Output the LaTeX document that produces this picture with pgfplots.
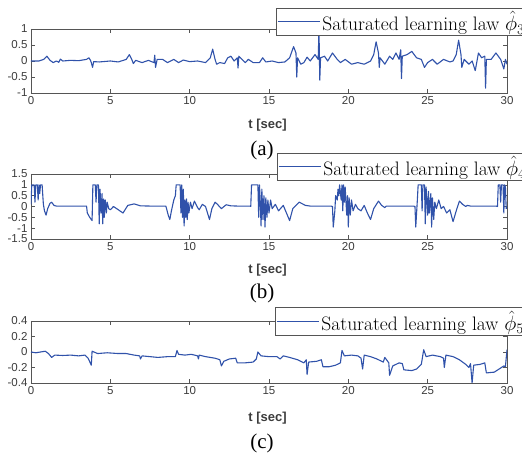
\documentclass[border=0pt]{standalone}
\usepackage{fontspec}
\setsansfont{Liberation Sans}
\newfontfamily\timesfont{Liberation Serif}
\usepackage{pgfplots}
\pgfplotsset{compat=1.18}
\definecolor{mblue}{RGB}{48,82,170}
\definecolor{axgray}{RGB}{85,85,85}
\definecolor{labgray}{RGB}{60,60,60}
\pgfplotsset{
  myax/.style={
    scale only axis, width=476pt,
    xmin=0, xmax=30,
    xtick={0,5,10,15,20,25,30},
    xticklabels={0,5,10,15,20,25,30},
    tick align=inside, major tick length=4pt,
    axis line style={axgray, line width=0.6pt},
    every tick/.style={axgray, line width=0.5pt},
    tick label style={font=\sffamily\fontsize{11.5}{12}\selectfont, text=labgray},
    xlabel={t [sec]},
    xlabel style={font=\sffamily\bfseries\fontsize{13}{14}\selectfont, text=labgray,
      at={(axis description cs:0.497,0)}, anchor=center},
    legend cell align=left,
    legend style={anchor=north west, draw=axgray, fill=white, line width=0.5pt,
      font=\fontsize{19.5}{21}\selectfont, inner sep=1pt, row sep=0pt},
    legend image code/.code={\draw[mblue, line width=1pt] (0pt,0pt) -- (42pt,0pt);},
    no markers,
    every axis plot post/.append style={mblue, line width=1.1pt, line join=round, mark=none},
  }
}
\begin{document}
\begin{tikzpicture}[x=1pt,y=1pt]
\path[use as bounding box] (0,0) rectangle (522,460);
\clip (0,0) rectangle (522,460);
% ---------------- (a)
\begin{axis}[myax, at={(31pt,367pt)}, anchor=south west, height=64pt,
  ymin=-1, ymax=1, ytick={-1,-0.5,0,0.5,1}, yticklabels={-1,-0.5,0,0.5,1},
  xlabel style={yshift=-32pt},
  legend style={at={(0.515,1.33)}}]
\addplot coordinates {(0,0)(0.5,0.0)(0.8,0.05)(1.0,0.15)(1.2,0.02)(1.4,-0.05)(1.6,0.0)(1.75,-0.04)(1.85,0.06)(2.0,0.0)(2.5,0.02)(3.0,0.01)(3.5,0.05)(3.65,0.1)(3.75,0.02)(3.8,-0.05)(3.88,-0.2)(3.95,-0.02)(4.3,-0.03)(5,0.0)(5.5,-0.03)(6.0,0.05)(6.2,0.2)(6.35,0.05)(6.45,-0.08)(6.6,0.02)(7.0,-0.05)(7.4,0.02)(7.75,-0.05)(7.8,0.18)(7.85,-0.2)(7.95,0.05)(8.3,0.05)(8.6,-0.05)(9.0,0.05)(9.3,-0.05)(9.6,0.03)(10,-0.02)(10.5,0.0)(11.0,-0.05)(11.3,0.1)(11.45,0.37)(11.6,0.05)(11.7,-0.1)(11.9,-0.05)(12.2,-0.08)(12.4,0.1)(12.6,0.15)(12.8,0.0)(13.0,0.1)(13.05,-0.22)(13.1,0.15)(13.3,0.05)(13.5,-0.05)(13.7,0.05)(14.0,-0.05)(14.4,-0.05)(14.6,0.1)(14.8,-0.03)(15.2,0.0)(15.6,-0.05)(16.0,-0.03)(16.3,0.1)(16.55,0.45)(16.7,0.25)(16.75,-0.5)(16.8,0.1)(17.0,-0.1)(17.2,-0.05)(17.4,0.12)(17.6,0.0)(17.9,0.2)(18.1,0.05)(18.15,1.0)(18.2,-0.6)(18.25,0.1)(18.5,0.15)(18.7,0.0)(19.0,0.25)(19.3,0.05)(19.5,-0.05)(19.8,0.05)(20.2,-0.1)(20.6,-0.05)(21.0,-0.1)(21.4,0.0)(21.6,0.2)(21.75,0.6)(21.9,0.25)(21.95,-0.2)(22.0,0.1)(22.3,-0.1)(22.6,0.15)(22.8,0.05)(23.0,0.25)(23.2,0.05)(23.3,0.35)(23.35,-0.55)(23.4,0.15)(23.7,0.2)(24.0,0.3)(24.3,0.1)(24.6,0.05)(24.8,-0.2)(25.0,-0.05)(25.3,0.05)(25.6,-0.1)(26.0,0.05)(26.4,-0.03)(26.6,0.0)(26.8,0.2)(26.95,0.65)(27.1,0.2)(27.15,-0.2)(27.3,0.05)(27.6,-0.1)(27.8,0.0)(28.0,-0.3)(28.2,0.25)(28.4,0.1)(28.6,0.15)(28.65,-0.85)(28.7,0.05)(29.0,0.05)(29.3,0.25)(29.6,0.05)(29.8,-0.25)(29.9,0.05)(30,-0.1)};
\addlegendentry{Saturated learning law $\hat{\phi}_3$}
\end{axis}
% ---------------- (b)
\begin{axis}[myax, at={(31pt,221pt)}, anchor=south west, height=65pt,
  ymin=-1.5, ymax=1.5, ytick={-1.5,-1,-0.5,0,0.5,1,1.5}, yticklabels={-1.5,-1,-0.5,0,0.5,1,1.5},
  xlabel style={yshift=-31pt},
  legend style={at={(0.517,1.33)}}]
\addplot coordinates {(0,0.1)(0.05,1)(0.2,1)(0.25,0.2)(0.3,1)(0.4,1)(0.45,0.3)(0.5,1)(0.55,0.6)(0.6,1)(0.7,1)(0.78,0.1)(0.85,-0.2)(0.95,-0.4)(1.05,-0.1)(1.2,0.15)(1.3,0.2)(1.45,0.05)(1.6,0.02)(2,0.02)(3,0.02)(3.5,0.02)
(3.55,-0.3)(3.7,-0.5)(3.85,-0.65)(3.9,1)(4.05,1)(4.1,0.2)(4.15,1)(4.25,1)(4.3,-0.8)(4.35,0.8)(4.42,-0.3)(4.48,0.6)(4.52,-0.8)(4.58,0.35)(4.62,-0.5)(4.68,0.3)(4.75,-0.3)(4.8,0.2)(4.9,-0.1)(5.0,-0.15)(5.2,0.0)(5.4,-0.1)(5.8,-0.3)(6.1,0.05)(6.5,0.12)(6.9,0.03)(7.5,0.02)(8.5,0.02)
(8.65,-0.4)(8.75,-0.6)(8.85,-0.2)(9.0,0.3)(9.1,0.5)(9.15,1)(9.4,1)(9.45,-0.3)(9.5,1)(9.55,-0.5)(9.6,0.8)(9.65,-0.9)(9.7,0.3)(9.75,-0.5)(9.8,0.35)(9.85,-0.6)(9.9,0.2)(9.95,-0.3)(10.05,0.2)(10.15,-0.1)(10.3,0.25)(10.5,-0.05)(10.6,-0.15)(10.8,0.1)(11.0,0.0)(11.25,-0.6)(11.4,-0.1)(11.6,0.2)(11.75,0.1)(12.0,-0.1)(12.3,0.08)(12.6,0.03)(13,0.02)(13.8,0.02)
(13.85,0.0)(13.9,1)(14.3,1)(14.35,-0.5)(14.4,1)(14.45,0.2)(14.5,-0.9)(14.55,0.8)(14.62,-0.6)(14.68,0.5)(14.75,-0.95)(14.8,0.4)(14.87,-0.5)(14.93,0.3)(15.0,-0.3)(15.1,0.3)(15.2,-0.1)(15.4,0.1)(15.6,-0.2)(15.9,0.05)(16.1,-0.3)(16.3,-0.65)(16.5,-0.1)(16.9,0.2)(17.3,0.05)(17.6,0.02)(18.9,0.02)
(19.0,0.0)(19.05,-0.95)(19.15,-0.2)(19.2,0.5)(19.3,0.3)(19.35,0.8)(19.4,0.5)(19.45,1)(19.55,0.3)(19.6,1)(19.65,-0.2)(19.7,1)(19.75,0.2)(19.8,0.9)(19.9,-0.4)(19.95,0.5)(20.0,-0.95)(20.05,0.4)(20.12,-0.4)(20.2,0.3)(20.3,-0.2)(20.45,0.1)(20.6,-0.1)(20.8,-0.2)(21.0,0.05)(21.2,-0.3)(21.4,-0.6)(21.6,-0.1)(21.9,0.25)(22.1,0.05)(22.3,-0.05)(22.4,0.02)(24.1,0.02)
(24.2,0.0)(24.25,-0.95)(24.35,0.3)(24.4,1)(24.6,1)(24.65,-0.2)(24.7,1)(24.8,1)(24.85,-0.8)(24.9,0.9)(25.0,-0.4)(25.05,0.7)(25.1,-0.3)(25.2,0.6)(25.25,-0.95)(25.3,0.4)(25.38,-0.6)(25.45,0.2)(25.55,-0.1)(25.7,0.3)(25.85,-0.1)(26.0,0.0)(26.2,-0.3)(26.4,-0.15)(26.6,-0.7)(26.8,-0.2)(27.0,0.25)(27.2,0.1)(27.4,0.0)(27.5,0.05)(27.7,0.02)(29.3,0.02)
(29.4,0.0)(29.45,1)(29.55,1)(29.6,0.2)(29.65,1)(29.75,1)(29.8,-0.3)(29.85,1)(29.9,0.9)(29.95,-0.1)(30,0.0)};
\addlegendentry{Saturated learning law $\hat{\phi}_4$}
\end{axis}
% ---------------- (c)
\begin{axis}[myax, at={(31pt,77pt)}, anchor=south west, height=62pt,
  ymin=-0.4, ymax=0.4, ytick={-0.4,-0.2,0,0.2,0.4}, yticklabels={-0.4,-0.2,0,0.2,0.4},
  xlabel style={yshift=-35pt},
  legend style={at={(0.513,1.22)}}]
\addplot coordinates {(0,0.0)(0.3,-0.01)(0.6,0.0)(0.9,0.01)(1.1,-0.02)(1.3,-0.07)(1.5,-0.04)(2.0,-0.045)(2.5,-0.04)(3.0,-0.05)(3.4,-0.04)(3.6,-0.08)(3.8,-0.17)(3.85,0.01)(4.2,-0.02)(4.8,-0.01)(5.5,-0.02)(6.0,-0.02)(6.5,-0.04)(6.85,-0.05)(6.9,-0.09)(7.0,-0.05)(7.5,-0.06)(8.0,-0.07)(8.6,-0.06)(9.1,-0.06)(9.2,0.02)(9.3,-0.03)(9.7,-0.04)(10.1,-0.03)(10.5,-0.05)(10.55,-0.09)(10.6,-0.04)(11.0,-0.06)(11.6,-0.08)(11.9,-0.1)(12.0,-0.18)(12.15,-0.12)(12.5,-0.09)(12.9,-0.08)(13.0,-0.14)(13.5,-0.14)(14.0,-0.13)(14.2,-0.09)(14.3,0.0)(14.5,-0.05)(15.0,-0.06)(15.5,-0.06)(15.7,-0.09)(15.9,-0.05)(16.3,-0.07)(16.8,-0.1)(17.2,-0.14)(17.35,-0.1)(17.4,-0.29)(17.5,-0.13)(18.0,-0.12)(18.3,-0.1)(18.4,-0.19)(18.8,-0.19)(19.2,-0.17)(19.5,-0.14)(19.6,0.02)(19.75,-0.05)(20.2,-0.04)(20.6,-0.05)(20.8,-0.08)(20.9,-0.22)(21.0,-0.04)(21.4,-0.06)(21.8,-0.09)(22.2,-0.13)(22.3,-0.07)(22.55,-0.14)(22.6,-0.3)(22.8,-0.18)(23.2,-0.14)(23.4,-0.15)(23.5,-0.23)(24.0,-0.24)(24.3,-0.22)(24.6,-0.16)(24.75,0.03)(24.9,-0.06)(25.3,-0.04)(25.8,-0.06)(26.0,-0.08)(26.05,-0.2)(26.15,-0.04)(26.6,-0.06)(27.0,-0.1)(27.4,-0.16)(27.6,-0.2)(27.7,-0.15)(27.8,-0.4)(27.9,-0.17)(28.3,-0.16)(28.6,-0.14)(28.7,-0.27)(29.2,-0.26)(29.5,-0.22)(29.8,-0.18)(29.9,-0.19)(29.95,-0.08)(30,0.03)};
\addlegendentry{Saturated learning law $\hat{\phi}_5$}
\end{axis}
\node[font=\timesfont\fontsize{21}{22}\selectfont] at (262,310) {(a)};
\node[font=\timesfont\fontsize{21}{22}\selectfont] at (262,167) {(b)};
\node[font=\timesfont\fontsize{21}{22}\selectfont] at (262,17) {(c)};
\end{tikzpicture}
\end{document}
